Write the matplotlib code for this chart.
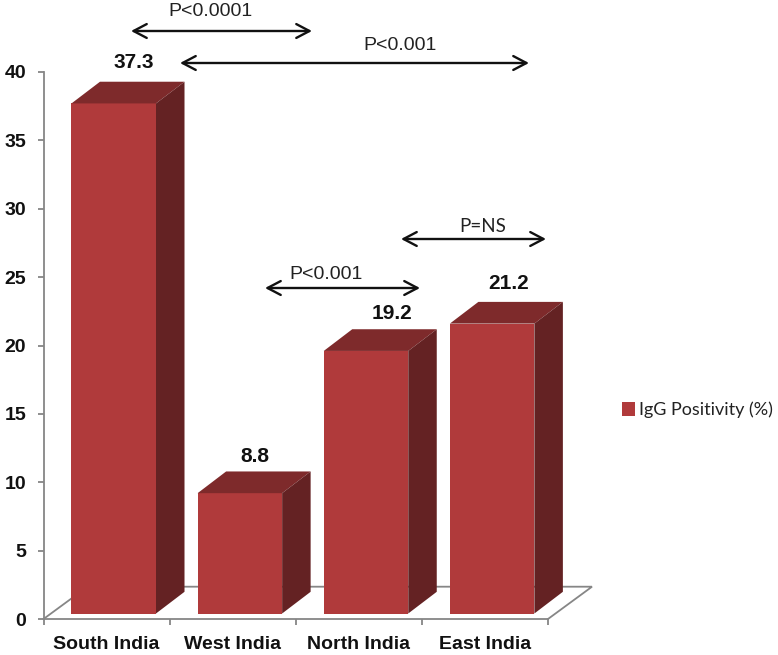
import matplotlib
matplotlib.use("Agg")
import matplotlib.pyplot as plt
from matplotlib.patches import Patch

categories = ["South India", "West India", "North India", "East India"]
values = [37.3, 8.8, 19.2, 21.2]
series_name = "IgG Positivity (%)"
y_ticks = [0, 5, 10, 15, 20, 25, 30, 35, 40]

W, H = 778, 655
FRONT, TOP, SIDE = "#B03A3B", "#7E2A2B", "#642223"
GREY = "#868686"
SANS = "Liberation Sans"

fig = plt.figure(figsize=(W / 100, H / 100), dpi=100, facecolor="white")
L, R, T, B = 43.5, 548, 72, 619
ax = fig.add_axes([L / W, 1 - B / H, (R - L) / W, (B - T) / H])
ax.set_xlim(-0.5, 3.5)
ax.set_ylim(0, 40)

px_x = (R - L) / 4
px_y = (B - T) / 40

# floor parallelogram
fdx, fdy = 44 / px_x, 32.3 / px_y
ax.plot([-0.5, -0.5 + fdx, 3.5 + fdx, 3.5], [0, fdy, fdy, 0],
        color=GREY, lw=1.3, clip_on=False, zorder=1, solid_joinstyle="miter")

# bars as pseudo-3D boxes
left_off, width = -0.278, 0.67
base = 5.5 / px_y
dx, dy = 28.5 / px_x, 21.7 / px_y
for i, v in enumerate(values):
    x0 = i + left_off
    x1 = x0 + width
    y1 = base + v
    ax.fill([x0, x1, x1, x0], [base, base, y1, y1], color=FRONT, lw=0, zorder=3, clip_on=False)
    ax.fill([x0, x1, x1 + dx, x0 + dx], [y1, y1, y1 + dy, y1 + dy], color=TOP, lw=0, zorder=3, clip_on=False)
    ax.fill([x1, x1 + dx, x1 + dx, x1], [base, base + dy, y1 + dy, y1], color=SIDE, lw=0, zorder=3, clip_on=False)

# value labels, offsets in points from the back-top centre of each bar
label_offsets = [(-6, 14), (-10, 11), (-1.5, 11), (-9, 13.5)]
for i, (v, off) in enumerate(zip(values, label_offsets)):
    ax.annotate(f"{v:.1f}", (i + left_off + width / 2 + dx, base + v + dy),
                xytext=off, textcoords="offset points", ha="center", va="center",
                fontsize=15, fontweight="bold", family=SANS, color="#111111",
                annotation_clip=False, zorder=5)

# axes
for s in ["top", "right"]:
    ax.spines[s].set_visible(False)
for s in ["left", "bottom"]:
    ax.spines[s].set_color(GREY)
    ax.spines[s].set_linewidth(1.3)
ax.patch.set_alpha(0)
ax.set_yticks(y_ticks)
ax.set_xticks([-0.5, 0.5, 1.5, 2.5, 3.5])
ax.set_xticklabels([])
ax.set_xticks([0, 1, 2, 3], categories, minor=True)
ax.tick_params(axis="y", color=GREY, width=1.3, length=4.5, pad=8, labelsize=14, labelcolor="#111111")
ax.tick_params(axis="x", which="major", color=GREY, width=1.3, length=4.5)
ax.tick_params(axis="x", which="minor", length=0, pad=12, labelsize=14, labelcolor="#111111")
for lab in ax.get_yticklabels() + ax.get_xticklabels(minor=True):
    lab.set_family(SANS)
    lab.set_fontweight("bold")

# significance brackets
sig_labels = ["P<0.0001", "P<0.001", "P<0.001", "P=NS"]
sig_spans = [(131, 312, 31), (180, 529, 63), (265, 420, 288), (401, 546, 239)]
sig_text = [(211, 12, SANS, 14), (400, 46, SANS, 14), (326, 275, SANS, 14), (483, 226, "Lato", 13.5)]
for name, (a, b, y), (tx, ty, fam, fs) in zip(sig_labels, sig_spans, sig_text):
    ax.annotate("", xy=(a / W, 1 - y / H), xytext=(b / W, 1 - y / H),
                xycoords="figure fraction", textcoords="figure fraction",
                arrowprops=dict(arrowstyle="<->,head_length=0.95,head_width=0.5",
                                color="#111111", lw=1.7, shrinkA=0, shrinkB=0),
                annotation_clip=False)
    fig.text(tx / W, 1 - ty / H, name, ha="center", va="center", fontsize=fs,
             family=fam, color="#222222")

# legend
handle = Patch(facecolor=FRONT, edgecolor="none", label=series_name)
fig.legend(handles=[handle], loc="center left", bbox_to_anchor=(618 / W, 1 - 410 / H),
           frameon=False, prop={"family": "Lato", "size": 13},
           handlelength=0.75, handleheight=0.75, handletextpad=0.2, borderpad=0.2,
           borderaxespad=0, labelcolor="#222222")

fig.savefig("out.png", dpi=100)
